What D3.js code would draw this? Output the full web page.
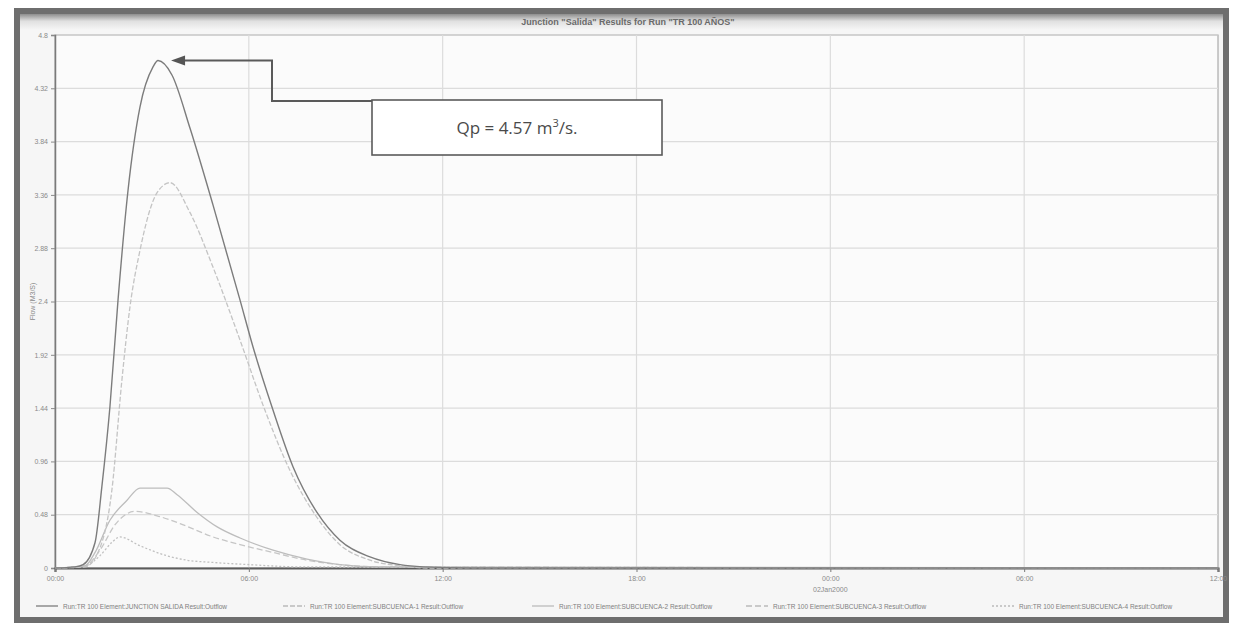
<!DOCTYPE html>
<html>
<head>
<meta charset="utf-8">
<script src="https://cdn.jsdelivr.net/npm/d3@7"></script>
<style>
  html, body { margin: 0; padding: 0; background: #ffffff; }
  svg { display: block; font-family: "Liberation Sans", Arial, sans-serif; }
</style>
</head>
<body>
<svg id="chart" width="1241" height="630"></svg>
<script>
// Hydrograph: junction outflow and contributing sub-basin outflows (hours from start)
const titleText = 'Junction "Salida" Results for Run "TR 100 AÑOS"';
const yAxisTitle = "Flow (M3/S)";

const xTicks = [0, 6, 12, 18, 24, 30, 36];
const xTickLabels = ["00:00", "06:00", "12:00", "18:00", "00:00", "06:00", "12:00"];
const dateTick = 24;
const dateLabel = "02Jan2000";

const yTicks = [0, 0.48, 0.96, 1.44, 1.92, 2.4, 2.88, 3.36, 3.84, 4.32, 4.8];

const seriesNames = [
  "Run:TR 100 Element:JUNCTION SALIDA Result:Outflow",
  "Run:TR 100 Element:SUBCUENCA-1 Result:Outflow",
  "Run:TR 100 Element:SUBCUENCA-2 Result:Outflow",
  "Run:TR 100 Element:SUBCUENCA-3 Result:Outflow",
  "Run:TR 100 Element:SUBCUENCA-4 Result:Outflow"
];

// junction outflow
const hoursA = [0, 0.62, 0.87, 1.24, 1.45, 1.70, 1.95, 2.26, 2.63, 3.03, 3.19, 3.62, 4.18, 4.89, 5.73, 6.13, 6.75, 7.37, 8.11, 8.82, 9.75, 10.68, 11.39, 12.85, 36];
const flowA  = [0, 0.01, 0.03, 0.23, 0.73, 1.45, 2.41, 3.40, 4.15, 4.51, 4.57, 4.44, 3.96, 3.27, 2.41, 1.99, 1.42, 0.91, 0.50, 0.25, 0.10, 0.03, 0.01, 0, 0];

// sub-basin 1
const hoursB = [0, 0.93, 1.39, 1.76, 2.07, 2.32, 2.63, 3.16, 3.56, 4.18, 4.89, 5.73, 6.50, 7.27, 8.05, 8.82, 9.75, 10.68, 11.61, 36];
const flowB  = [0, 0.01, 0.18, 0.70, 1.69, 2.35, 2.86, 3.38, 3.47, 3.20, 2.71, 2.05, 1.42, 0.88, 0.48, 0.21, 0.07, 0.02, 0, 0];

// sub-basin 2
const hoursC = [0, 0.93, 1.24, 1.70, 2.23, 2.63, 3.47, 3.78, 4.40, 5.02, 5.73, 6.75, 7.80, 8.82, 10.06, 36];
const flowC  = [0, 0.02, 0.14, 0.43, 0.61, 0.72, 0.72, 0.66, 0.50, 0.37, 0.27, 0.16, 0.08, 0.03, 0.01, 0];

// sub-basin 3
const hoursD = [0, 0.93, 1.39, 1.86, 2.48, 3.16, 3.87, 4.89, 5.73, 6.75, 7.80, 8.82, 10.06, 36];
const flowD  = [0, 0.02, 0.16, 0.39, 0.51, 0.47, 0.40, 0.28, 0.21, 0.14, 0.07, 0.03, 0.01, 0];

// sub-basin 4
const hoursE = [0, 0.93, 1.39, 1.76, 2.01, 2.63, 3.47, 4.09, 4.89, 6.04, 7.58, 36];
const flowE  = [0, 0.02, 0.11, 0.23, 0.28, 0.20, 0.11, 0.07, 0.05, 0.03, 0.01, 0];

const peakValue = 4.57;
const peakHour = 3.19;

const svg = d3.select("#chart");
const W = 1241, H = 630;
const plot = { left: 55, right: 1218, top: 35, bottom: 568 };

// outer frame
svg.append("rect").attr("x", 0).attr("y", 0).attr("width", W).attr("height", H).attr("fill", "#ffffff");
svg.append("rect").attr("x", 17).attr("y", 11).attr("width", 1209).attr("height", 609)
  .attr("fill", "#f6f6f6").attr("stroke", "#6e6e6e").attr("stroke-width", 6);

// title bar
const grad = svg.append("defs").append("linearGradient").attr("id", "tbar").attr("x1", 0).attr("y1", 0).attr("x2", 0).attr("y2", 1);
grad.append("stop").attr("offset", "0%").attr("stop-color", "#8e8e8e");
grad.append("stop").attr("offset", "45%").attr("stop-color", "#e0e0e0");
grad.append("stop").attr("offset", "100%").attr("stop-color", "#f6f6f6");
svg.append("rect").attr("x", 20).attr("y", 14).attr("width", 1203).attr("height", 16).attr("fill", "url(#tbar)");
svg.append("text").attr("x", 628).attr("y", 25).attr("text-anchor", "middle")
  .attr("font-size", 9).attr("font-weight", "bold").attr("fill", "#6a6a6a").text(titleText);

// plot background
svg.append("rect").attr("x", plot.left).attr("y", plot.top)
  .attr("width", plot.right - plot.left).attr("height", plot.bottom - plot.top)
  .attr("fill", "#fbfbfb").attr("stroke", "#9a9a9a").attr("stroke-width", 1);

const x = d3.scaleLinear().domain([0, 36]).range([plot.left, plot.right]);
const y = d3.scaleLinear().domain([0, 4.8]).range([plot.bottom, plot.top]);

// grid
const grid = svg.append("g");
grid.selectAll("line.h").data(yTicks.slice(1)).join("line")
  .attr("x1", plot.left).attr("x2", plot.right)
  .attr("y1", d => y(d)).attr("y2", d => y(d))
  .attr("stroke", "#dcdcdc").attr("stroke-width", 1.2);
grid.selectAll("line.v").data(xTicks.slice(1, -1)).join("line")
  .attr("y1", plot.top).attr("y2", plot.bottom)
  .attr("x1", d => x(d)).attr("x2", d => x(d))
  .attr("stroke", "#dcdcdc").attr("stroke-width", 1.2);

// axes
const yAxis = d3.axisLeft(y).tickValues(yTicks).tickSize(4).tickFormat(d3.format(".2~f"));
const gy = svg.append("g").attr("transform", `translate(${plot.left},0)`).call(yAxis);
gy.select(".domain").attr("stroke", "#7a7a7a").attr("stroke-width", 1.5);
gy.selectAll(".tick line").attr("stroke", "#8a8a8a");
gy.selectAll(".tick text").attr("font-size", 7).attr("fill", "#8a8a8a").attr("font-family", "Liberation Sans, Arial, sans-serif");

const xAxis = d3.axisBottom(x).tickValues(xTicks).tickSize(4).tickFormat((d, i) => xTickLabels[i]);
const gx = svg.append("g").attr("transform", `translate(0,${plot.bottom})`).call(xAxis);
gx.select(".domain").attr("stroke", "#5c5c5c").attr("stroke-width", 2.2);
gx.selectAll(".tick line").attr("stroke", "#7a7a7a");
gx.selectAll(".tick text").attr("font-size", 7).attr("fill", "#8a8a8a").attr("dy", "0.9em")
  .attr("font-family", "Liberation Sans, Arial, sans-serif");
svg.append("text").attr("x", x(dateTick)).attr("y", 592).attr("text-anchor", "middle")
  .attr("font-size", 7).attr("fill", "#8a8a8a").text(dateLabel);

svg.append("text").attr("transform", `translate(35,${(plot.top + plot.bottom) / 2}) rotate(-90)`)
  .attr("text-anchor", "middle").attr("font-size", 7).attr("fill", "#8a8a8a").text(yAxisTitle);

// series
const series = [
  { name: seriesNames[0], hours: hoursA, flow: flowA, color: "#7c7c7c", width: 1.4, dash: null },
  { name: seriesNames[1], hours: hoursB, flow: flowB, color: "#c4c4c4", width: 1.3, dash: "5,2" },
  { name: seriesNames[2], hours: hoursC, flow: flowC, color: "#bdbdbd", width: 1.3, dash: null },
  { name: seriesNames[3], hours: hoursD, flow: flowD, color: "#c6c6c6", width: 1.3, dash: "6,3" },
  { name: seriesNames[4], hours: hoursE, flow: flowE, color: "#c0c0c0", width: 1.3, dash: "2,2" }
];

const line = d3.line().x(d => x(d[0])).y(d => y(d[1])).curve(d3.curveMonotoneX);
const lines = svg.append("g");
series.slice().reverse().forEach(s => {
  lines.append("path")
    .datum(s.hours.map((h, i) => [h, s.flow[i]]))
    .attr("d", line).attr("fill", "none")
    .attr("stroke", s.color).attr("stroke-width", s.width)
    .attr("stroke-dasharray", s.dash);
});

// legend
const legendX = [36, 283, 532, 746, 992];
const legend = svg.append("g");
series.forEach((s, i) => {
  const g = legend.append("g").attr("transform", `translate(${legendX[i]},606)`);
  g.append("line").attr("x1", 0).attr("x2", 22).attr("y1", 0).attr("y2", 0)
    .attr("stroke", i === 0 ? "#7c7c7c" : "#bbbbbb").attr("stroke-width", 1.3)
    .attr("stroke-dasharray", s.dash);
  g.append("text").attr("x", 27).attr("y", 2.5).attr("font-size", 6.5).attr("fill", "#808080").text(s.name);
});

// peak annotation
const px = x(peakHour), py = y(peakValue);
const boxX = 372, boxY = 100, boxW = 290, boxH = 55;
const ann = svg.append("g");
ann.append("path")
  .attr("d", `M${boxX},${boxY + 1} H272 V${py} H${px + 24}`)
  .attr("fill", "none").attr("stroke", "#5a5a5a").attr("stroke-width", 2);
ann.append("path")
  .attr("d", `M${px + 13},${py} L${px + 27},${py - 5} L${px + 27},${py + 5} Z`)
  .attr("fill", "#555555");
ann.append("rect").attr("x", boxX).attr("y", boxY).attr("width", boxW).attr("height", boxH)
  .attr("fill", "#ffffff").attr("stroke", "#5a5a5a").attr("stroke-width", 1.6);
const t = ann.append("text").attr("x", boxX + boxW / 2).attr("y", boxY + boxH / 2 + 6)
  .attr("text-anchor", "middle").attr("font-size", 17).attr("fill", "#4a4a4a")
  .attr("font-family", "Open Sans, Liberation Sans, sans-serif");
t.append("tspan").text(`Qp = ${peakValue} m`);
t.append("tspan").attr("dy", -7).attr("font-size", 11).text("3");
t.append("tspan").attr("dy", 7).text("/s.");
</script>
</body>
</html>
